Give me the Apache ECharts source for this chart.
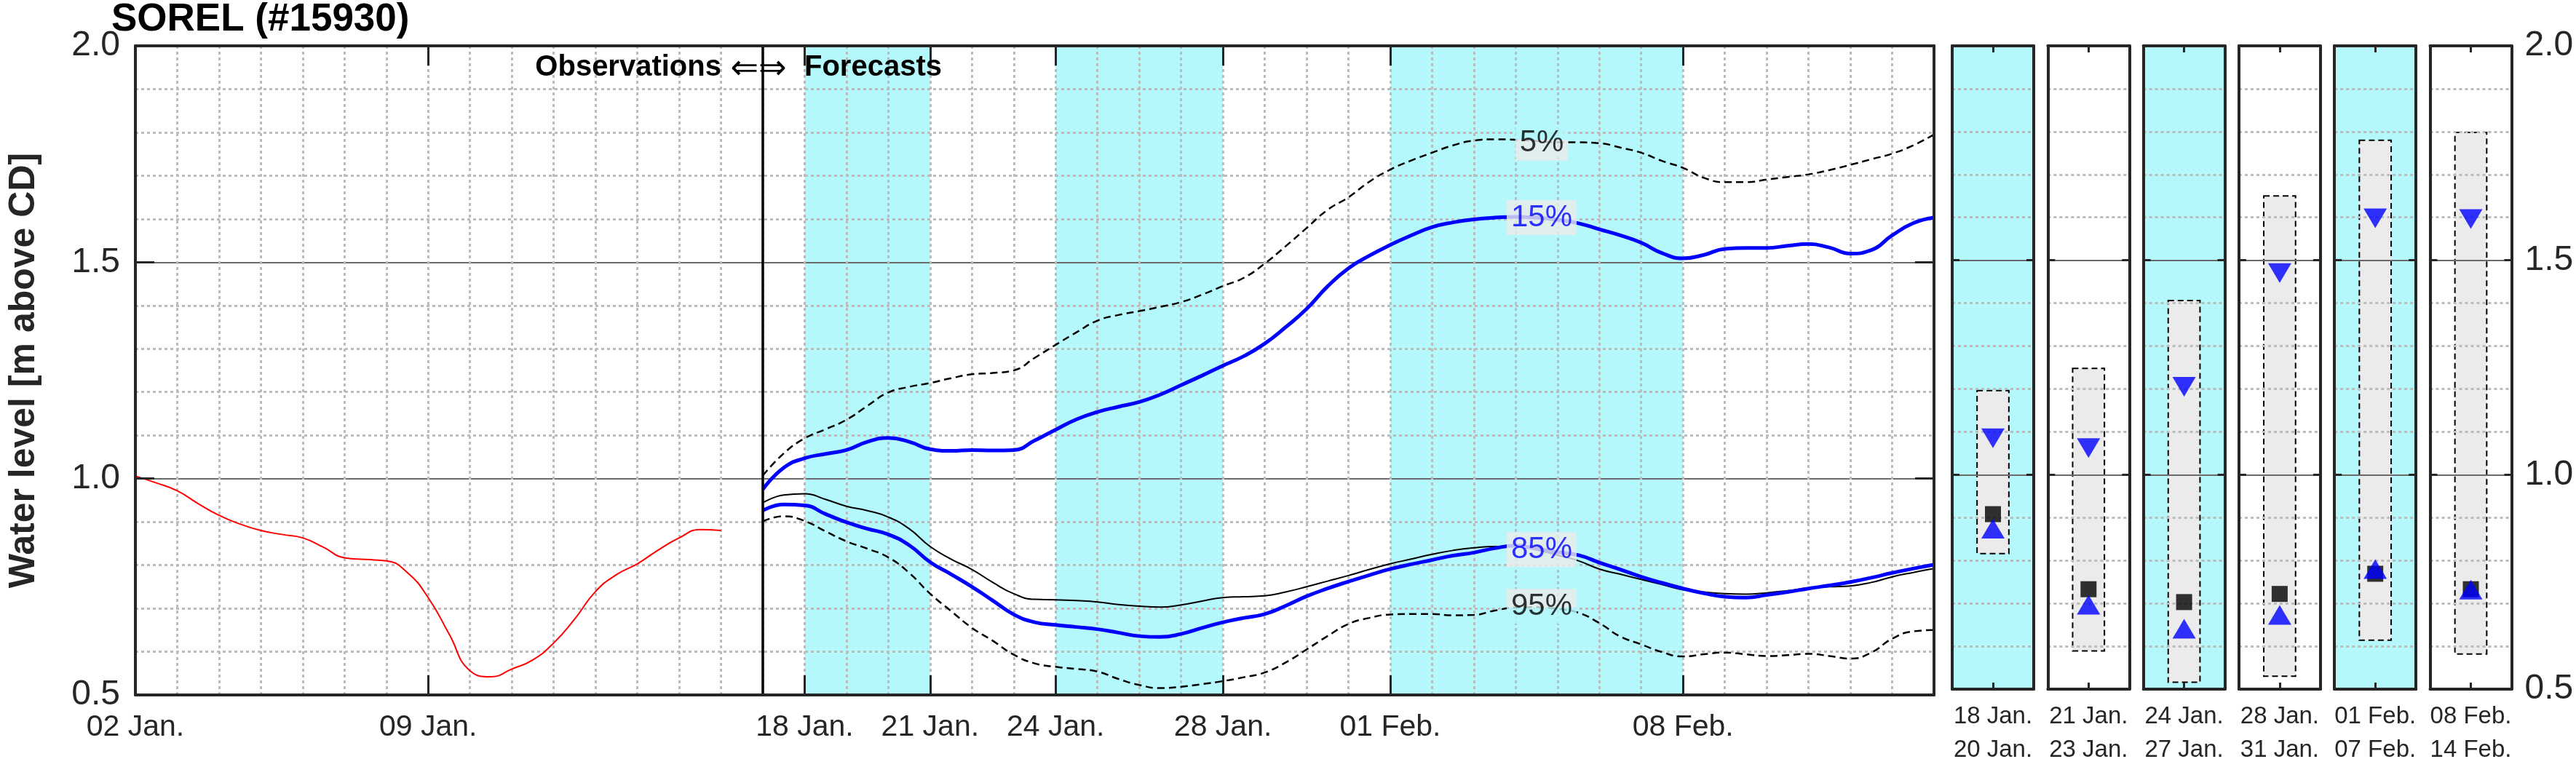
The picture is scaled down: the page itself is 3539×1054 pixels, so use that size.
<!DOCTYPE html>
<html><head><meta charset="utf-8">
<script src="https://cdn.jsdelivr.net/npm/echarts@6/dist/echarts.min.js"></script>
<style>html,body{margin:0;padding:0;background:#fff}#c{width:3539px;height:1054px}</style>
</head><body><div id="c"></div>
<script>
// ---------------- DATA ----------------
const stationTitle = 'SOREL (#15930)';
const yAxisTitle = 'Water level [m above CD]';
// day numbers are counted from 02 Jan.
const tickDays   = [0, 7, 16, 19, 22, 26, 30, 37];
const tickLabels = ['02 Jan.', '09 Jan.', '18 Jan.', '21 Jan.', '24 Jan.', '28 Jan.', '01 Feb.', '08 Feb.'];
const axisEndDay = 43;
const forecastStartDay = 15;
const cyanBandStart = [16, 22, 30];
const cyanBandEnd   = [19, 26, 37];

const obsDays  = [0,0.5,1,1.5,2,2.5,3,3.5,4,4.5,5,5.5,6,6.5,7,7.5,8,8.5,9,9.5,10,10.5,11,11.5,12,12.5,13,13.5,14];
const obsLevel = [1.006,0.990,0.972,0.942,0.915,0.895,0.880,0.871,0.863,0.841,
                  0.817,0.813,0.810,0.783,0.725,0.641,0.556,0.542,0.560,0.581,
                  0.620,0.675,0.739,0.778,0.803,0.835,0.863,0.882,0.880];

const fcDays = [15,15.5,16,16.5,17,17.5,18,18.5,19,19.5,
                20,20.5,21,21.5,22,22.5,23,23.5,24,24.5,
                25,25.5,26,26.5,27,27.5,28,28.5,29,29.5,
                30,30.5,31,31.5,32,32.5,33,33.5,34,34.5,
                35,35.5,36,36.5,37,37.5,38,38.5,39,39.5,
                40,40.5,41,41.5,42,42.5,43];
const p5 = [1.007,1.058,1.093,1.114,1.136,1.168,1.199,1.212,1.221,1.232,
            1.241,1.244,1.250,1.279,1.309,1.338,1.365,1.378,1.387,1.397,
            1.408,1.425,1.445,1.464,1.497,1.537,1.579,1.621,1.650,1.686,
            1.714,1.735,1.753,1.770,1.781,1.784,1.783,1.780,1.777,1.777,
            1.775,1.765,1.753,1.734,1.718,1.695,1.685,1.685,1.691,1.697,
            1.703,1.713,1.725,1.738,1.751,1.770,1.795];
const p15 = [0.975,1.025,1.047,1.057,1.066,1.085,1.094,1.085,1.068,1.064,
             1.066,1.065,1.066,1.088,1.113,1.137,1.154,1.166,1.177,1.194,
             1.216,1.238,1.261,1.283,1.312,1.350,1.392,1.444,1.486,1.515,
             1.540,1.562,1.581,1.592,1.599,1.603,1.605,1.603,1.598,1.590,
             1.576,1.562,1.545,1.521,1.509,1.517,1.531,1.533,1.533,1.538,
             1.542,1.534,1.520,1.528,1.562,1.590,1.603];
const pMed = [0.944,0.962,0.965,0.952,0.936,0.926,0.911,0.884,0.843,0.814,
              0.790,0.760,0.734,0.721,0.720,0.718,0.715,0.709,0.705,0.703,
              0.708,0.717,0.725,0.727,0.729,0.738,0.750,0.763,0.776,0.790,
              0.803,0.814,0.825,0.834,0.840,0.843,0.843,0.835,0.823,0.810,
              0.791,0.779,0.767,0.755,0.743,0.738,0.734,0.733,0.736,0.741,
              0.747,0.750,0.752,0.760,0.773,0.783,0.792];
const p85 = [0.926,0.940,0.938,0.918,0.899,0.884,0.871,0.846,0.807,0.779,
             0.750,0.718,0.686,0.668,0.662,0.657,0.652,0.644,0.636,0.634,
             0.641,0.655,0.668,0.678,0.687,0.706,0.728,0.746,0.762,0.777,
             0.791,0.802,0.812,0.822,0.829,0.839,0.845,0.838,0.830,0.823,
             0.806,0.790,0.773,0.759,0.746,0.735,0.727,0.725,0.731,0.738,
             0.746,0.753,0.761,0.771,0.782,0.792,0.801];
const p95 = [0.901,0.913,0.902,0.878,0.855,0.838,0.818,0.782,0.734,0.694,
             0.655,0.625,0.593,0.573,0.565,0.560,0.554,0.537,0.523,0.516,
             0.519,0.525,0.532,0.541,0.552,0.575,0.605,0.636,0.664,0.678,
             0.686,0.687,0.687,0.684,0.685,0.695,0.702,0.703,0.699,0.690,
             0.666,0.635,0.617,0.599,0.589,0.594,0.598,0.594,0.590,0.592,
             0.595,0.590,0.584,0.598,0.630,0.647,0.650];

const curveLabelText  = ['5%', '15%', '85%', '95%'];
const curveLabelDay   = 33.62;
const curveLabelLevel = [1.775, 1.603, 0.836, 0.705];

const periodStart = ['18 Jan.', '21 Jan.', '24 Jan.', '28 Jan.', '01 Feb.', '08 Feb.'];
const periodEnd   = ['20 Jan.', '23 Jan.', '27 Jan.', '31 Jan.', '07 Feb.', '14 Feb.'];
const periodShaded = [true, false, true, false, true, false];
const periodLow    = [0.816, 0.589, 0.516, 0.530, 0.614, 0.582];
const periodHigh   = [1.196, 1.248, 1.406, 1.650, 1.780, 1.798];
const periodP15    = [1.085, 1.062, 1.205, 1.470, 1.598, 1.596];
const periodMedian = [0.908, 0.733, 0.703, 0.722, 0.769, 0.733];
const periodP85    = [0.874, 0.697, 0.641, 0.673, 0.780, 0.732];

// ---------------- STYLE / LAYOUT ----------------
const FONT = "'Liberation Sans', Arial, Helvetica, sans-serif";
const INK = '#262626';
const CYAN = '#b4f8fb';
const FILL = '#ebebeb';
const GRIDC = '#bcbcbc';
const MAJORC = '#6a6a6a';
const Y_MIN = 0.5, Y_MAX = 2.0;
const T0 = Date.UTC(2024, 0, 2), DAY = 86400000;
const t = d => T0 + d * DAY;

const option = {
  animation: false,
  textStyle: { fontFamily: FONT },
  grid: [], xAxis: [], yAxis: [], series: []
};
const addX = o => (option.xAxis.push(o), option.xAxis.length - 1);
const addY = o => (option.yAxis.push(o), option.yAxis.length - 1);
const addG = o => (option.grid.push(o), option.grid.length - 1);

const lineBox = { show: true, onZero: false, lineStyle: { color: INK, width: 4 } };

// ----- main panel -----
const gMain = addG({ left: 151, top: 63, width: 2506, height: 892 });
const tickTimes = tickDays.map(t);
const xMain = addX({
  gridIndex: gMain, type: 'value', min: t(0), max: t(axisEndDay), position: 'bottom', z: 6,
  axisLine: lineBox,
  axisTick: { show: true, inside: true, length: 27, lineStyle: { color: INK, width: 3 }, customValues: tickTimes },
  axisLabel: { show: true, customValues: tickTimes, fontSize: 41, lineHeight: 48, color: INK, margin: 21, fontFamily: FONT,
    formatter: v => { const i = tickDays.indexOf(Math.round((v - T0) / DAY)); return i >= 0 ? tickLabels[i] : ''; } },
  splitLine: { show: false }
});
addX({
  gridIndex: gMain, type: 'value', min: t(0), max: t(axisEndDay), position: 'top', z: 6,
  axisLine: lineBox,
  axisTick: { show: true, inside: true, length: 27, lineStyle: { color: INK, width: 3 }, customValues: tickTimes },
  axisLabel: { show: false }, splitLine: { show: false }
});
addX({
  gridIndex: gMain, type: 'value', min: t(0), max: t(axisEndDay), interval: DAY, position: 'bottom', z: 3,
  axisLine: { show: false }, axisTick: { show: false }, axisLabel: { show: false },
  splitLine: { show: true, lineStyle: { color: GRIDC, width: 3, type: [4, 4] } }
});

function yAxes(grid, opts) {
  const base = { gridIndex: grid, type: 'value', min: Y_MIN, max: Y_MAX, interval: 0.5 };
  const left = addY(Object.assign({}, base, {
    position: 'left', z: 6, axisLine: lineBox,
    axisTick: { show: true, inside: true, length: opts.tick, lineStyle: { color: INK, width: 3 } },
    axisLabel: { show: !!opts.leftLabels, fontSize: 48, color: INK, margin: 21, fontFamily: FONT, formatter: v => v.toFixed(1) },
    splitLine: { show: false },
    name: opts.name || '', nameLocation: 'middle', nameGap: 128, nameRotate: 90,
    nameTextStyle: { fontSize: 50, fontWeight: 'bold', color: INK, fontFamily: FONT }
  }));
  addY(Object.assign({}, base, {
    position: 'right', z: 6, axisLine: lineBox,
    axisTick: { show: true, inside: true, length: opts.tick, lineStyle: { color: INK, width: 3 } },
    axisLabel: { show: !!opts.rightLabels, fontSize: 48, color: INK, margin: 18, fontFamily: FONT, formatter: v => v.toFixed(1) },
    splitLine: { show: false }
  }));
  addY(Object.assign({}, base, {
    position: 'left', z: 3, axisLine: { show: false }, axisTick: { show: false }, axisLabel: { show: false },
    splitLine: { show: true, lineStyle: { color: MAJORC, width: 2 } },
    minorTick: { show: false, splitNumber: 5 },
    minorSplitLine: { show: true, lineStyle: { color: GRIDC, width: 3, type: [4, 4] } }
  }));
  return left;
}
const yMain = yAxes(gMain, { tick: 26, leftLabels: true, name: yAxisTitle });

const S = option.series;
// cyan day bands
S.push({
  type: 'custom', xAxisIndex: xMain, yAxisIndex: yMain, z: 1, silent: true,
  data: cyanBandStart.map((s, i) => [t(s), t(cyanBandEnd[i])]),
  encode: { x: [0, 1] },
  renderItem: (params, api) => {
    const a = api.coord([api.value(0), Y_MAX]);
    const b = api.coord([api.value(1), Y_MIN]);
    return { type: 'rect', shape: { x: a[0], y: a[1], width: b[0] - a[0], height: b[1] - a[1] }, style: { fill: CYAN } };
  }
});
// ensemble 5%-95% fill (stacked)
S.push({
  type: 'line', xAxisIndex: xMain, yAxisIndex: yMain, z: 2, stack: 'band', smooth: true, symbol: 'none', silent: true,
  data: fcDays.map((d, i) => [t(d), p95[i]]), lineStyle: { width: 0, opacity: 0 }
});
S.push({
  type: 'line', xAxisIndex: xMain, yAxisIndex: yMain, z: 2, stack: 'band', smooth: true, symbol: 'none', silent: true,
  data: fcDays.map((d, i) => [t(d), p5[i] - p95[i]]), lineStyle: { width: 0, opacity: 0 },
  areaStyle: { color: FILL, opacity: 1 }
});
const curve = (vals, color, width, type, z) => ({
  type: 'line', xAxisIndex: xMain, yAxisIndex: yMain, z, smooth: true, symbol: 'none', silent: true,
  data: fcDays.map((d, i) => [t(d), vals[i]]), lineStyle: { color, width, type }
});
S.push(curve(p5, '#000', 2.5, [10, 6], 4));
S.push(curve(p95, '#000', 2.5, [10, 6], 4));
S.push(curve(pMed, '#000', 2, 'solid', 4));
S.push(curve(p15, '#0000ff', 5, 'solid', 5));
S.push(curve(p85, '#0000ff', 5, 'solid', 5));
S.push({
  type: 'line', xAxisIndex: xMain, yAxisIndex: yMain, z: 4, smooth: true, symbol: 'none', silent: true,
  data: obsDays.map((d, i) => [t(d), obsLevel[i]]), lineStyle: { color: '#ff0000', width: 2 }
});
S.push({
  type: 'line', xAxisIndex: xMain, yAxisIndex: yMain, z: 5, symbol: 'none', silent: true,
  data: [[t(forecastStartDay), Y_MIN], [t(forecastStartDay), Y_MAX]], lineStyle: { color: '#000', width: 3.5 }
});
// curve labels
const grad = (top, bottom, stop) => new echarts.graphic.LinearGradient(0, 0, 0, 1, [
  { offset: 0, color: top }, { offset: stop, color: top }, { offset: stop, color: bottom }, { offset: 1, color: bottom }]);
const labelBg = [grad(CYAN, FILL, 0.41), FILL, FILL, grad(FILL, CYAN, 0.535)];
const labelColor = ['#000', '#0000ff', '#0000ff', '#000'];
S.push({
  type: 'scatter', xAxisIndex: xMain, yAxisIndex: yMain, z: 7, silent: true,
  symbol: 'circle', symbolSize: 0.1, itemStyle: { color: 'rgba(0,0,0,0)' },
  data: curveLabelText.map((txt, i) => ({
    value: [t(curveLabelDay), curveLabelLevel[i]],
    label: { show: true, position: 'inside', formatter: txt, fontSize: 42, lineHeight: 44, color: labelColor[i],
      fontFamily: FONT, backgroundColor: labelBg[i], padding: [2, 6] }
  }))
});

// ----- period panels -----
const panelLeft0 = 2682, panelPitch = 131.3, panelWidth = 112;
periodStart.forEach((ps, i) => {
  const g = addG({ left: panelLeft0 + i * panelPitch, top: 63, width: panelWidth, height: 892,
    show: true, backgroundColor: periodShaded[i] ? CYAN : '#ffffff', borderWidth: 0 });
  const xb = addX({
    gridIndex: g, type: 'category', data: [ps + '\n' + periodEnd[i]], position: 'bottom', z: 6,
    axisLine: lineBox,
    axisTick: { show: true, inside: true, alignWithLabel: true, length: 9, lineStyle: { color: INK, width: 3 } },
    axisLabel: { show: true, fontSize: 33, lineHeight: 46, color: INK, margin: 15, fontFamily: FONT },
    splitLine: { show: false }
  });
  addX({
    gridIndex: g, type: 'category', data: [ps], position: 'top', z: 6,
    axisLine: lineBox,
    axisTick: { show: true, inside: true, alignWithLabel: true, length: 9, lineStyle: { color: INK, width: 3 } },
    axisLabel: { show: false }, splitLine: { show: false }
  });
  const yl = yAxes(g, { tick: 10, rightLabels: i === periodStart.length - 1 });
  S.push({
    type: 'custom', xAxisIndex: xb, yAxisIndex: yl, z: 2, silent: true,
    data: [[0, periodLow[i], periodHigh[i]]], encode: { x: 0, y: [1, 2] },
    renderItem: (params, api) => {
      const top = api.coord([api.value(0), api.value(2)]);
      const bot = api.coord([api.value(0), api.value(1)]);
      const w = api.size([1, 0])[0] * 0.39;
      return { type: 'rect', shape: { x: top[0] - w / 2, y: top[1], width: w, height: bot[1] - top[1] },
        style: { fill: FILL, stroke: '#000', lineWidth: 2, lineDash: [8, 5] } };
    }
  });
  S.push({
    type: 'scatter', xAxisIndex: xb, yAxisIndex: yl, z: 5, silent: true,
    data: [
      { value: [0, periodMedian[i]], symbol: 'rect', symbolSize: 22, itemStyle: { color: '#000' } },
      { value: [0, periodP85[i]], symbol: 'triangle', symbolSize: [32, 27], itemStyle: { color: '#0000ff' } },
      { value: [0, periodP15[i]], symbol: 'triangle', symbolSize: [32, 27], symbolRotate: 180, itemStyle: { color: '#0000ff' } }
    ]
  });
});

const chart = echarts.init(document.getElementById('c'), null, { renderer: 'canvas' });
chart.setOption(option);

// annotations
const xs = chart.convertToPixel({ xAxisIndex: xMain }, t(forecastStartDay));
chart.setOption({
  graphic: [
    { type: 'text', x: 153, y: 27, z: 10, style: { text: stationTitle, font: "bold 53px " + FONT, fill: '#000', textVerticalAlign: 'middle', textAlign: 'left' } },
    { type: 'text', x: xs - 57, y: 93, z: 10, style: { text: 'Observations', font: "bold 40px " + FONT, fill: '#000', textVerticalAlign: 'middle', textAlign: 'right' } },
    { type: 'text', x: xs - 6, y: 96, z: 10, style: { text: '\u21D0\u21D2', font: "46px 'DejaVu Sans', sans-serif", fill: '#000', textVerticalAlign: 'middle', textAlign: 'center' } },
    { type: 'text', x: xs + 57, y: 93, z: 10, style: { text: 'Forecasts', font: "bold 40px " + FONT, fill: '#000', textVerticalAlign: 'middle', textAlign: 'left' } }
  ]
});
</script>
</body></html>
